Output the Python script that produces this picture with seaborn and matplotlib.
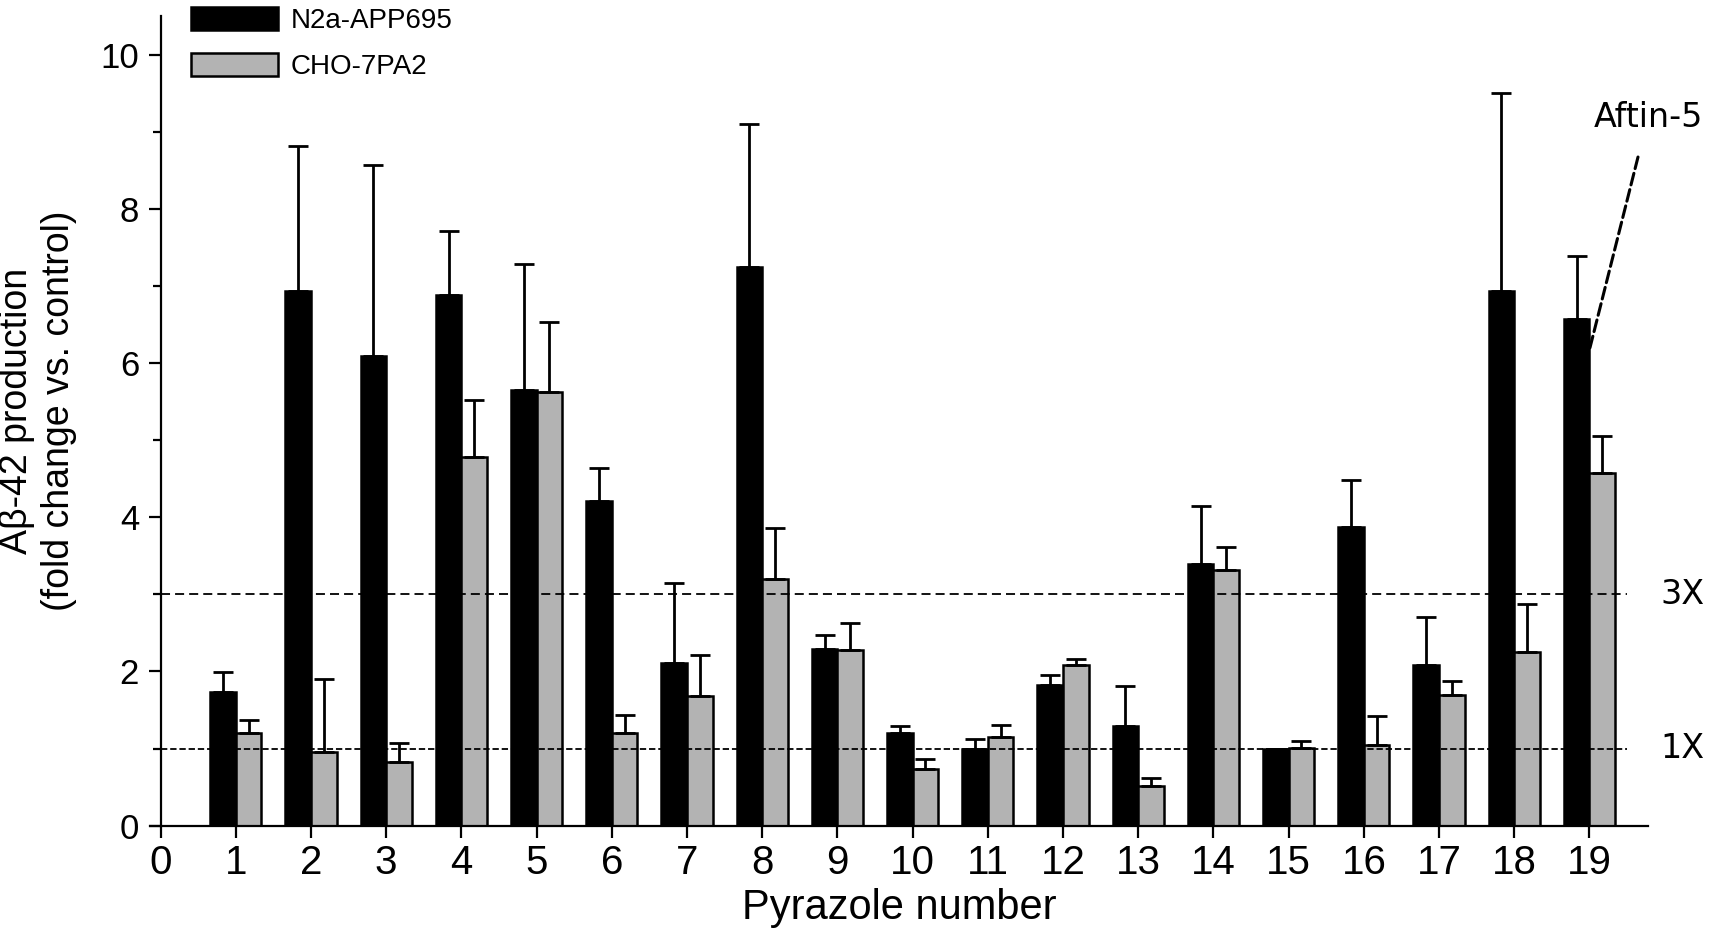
import pandas as pd
import matplotlib
matplotlib.use("Agg")
import matplotlib.pyplot as plt
import seaborn as sns

# values (mean and upper SEM)
pyrazole = list(range(1, 20))
n2a_mean = [1.73, 6.93, 6.09, 6.88, 5.65, 4.21, 2.11, 7.25, 2.29, 1.20,
            1.00, 1.82, 1.29, 3.39, 1.00, 3.88, 2.09, 6.93, 6.57]
n2a_sem = [0.26, 1.89, 2.48, 0.83, 1.64, 0.43, 1.04, 1.85, 0.18, 0.09,
           0.12, 0.13, 0.52, 0.76, 0.00, 0.60, 0.61, 2.57, 0.82]
cho_mean = [1.20, 0.95, 0.83, 4.78, 5.63, 1.20, 1.68, 3.20, 2.28, 0.73,
            1.15, 2.09, 0.52, 3.32, 1.01, 1.04, 1.70, 2.25, 4.58]
cho_sem = [0.17, 0.95, 0.24, 0.74, 0.90, 0.23, 0.54, 0.66, 0.35, 0.14,
           0.16, 0.07, 0.10, 0.29, 0.09, 0.38, 0.18, 0.63, 0.48]
series = ["N2a-APP695", "CHO-7PA2"]
colors = {"N2a-APP695": "black", "CHO-7PA2": "#b3b3b3"}

sns.set_style("ticks")
plt.rcParams["font.family"] = ["Liberation Sans", "DejaVu Sans"]
for key in ["text.color", "axes.labelcolor", "axes.edgecolor", "xtick.color", "ytick.color"]:
    plt.rcParams[key] = "black"

df = pd.DataFrame({
    "Pyrazole": pyrazole * 2,
    "value": n2a_mean + cho_mean,
    "line": [series[0]] * 19 + [series[1]] * 19,
})

fig = plt.figure(figsize=(17.13, 9.43), dpi=100)
ax = fig.add_axes([0.0876, 0.1244, 0.8745, 0.8586])

sns.barplot(data=df, x="Pyrazole", y="value", hue="line", hue_order=series,
            palette=colors, native_scale=True, width=0.68, errorbar=None,
            saturation=1, edgecolor="black", linewidth=1.8, legend=False, ax=ax)

# upper-only error bars on the bar centres
for cont, sem in zip(ax.containers, [n2a_sem, cho_sem]):
    xs = [p.get_x() + p.get_width() / 2 for p in cont.patches]
    ys = [p.get_height() for p in cont.patches]
    ax.errorbar(xs, ys, yerr=[[0] * len(sem), sem], fmt="none", ecolor="black",
                elinewidth=2.0, capsize=7.2, capthick=2.0, zorder=1)

ax.hlines(3, 0, 19.5, colors="black", linestyles=(0, (5, 2.8)), lw=1.3, zorder=3)
ax.hlines(1, 0, 19.5, colors="black", linestyles=(0, (3.5, 1.6)), lw=1.3, zorder=3)

ax.set_xlim(-0.14, 19.78)
ax.set_ylim(0, 10.5)
ax.set_xticks(range(0, 20))
ax.set_yticks(range(0, 11, 2))
ax.set_yticks(range(1, 11, 2), minor=True)
ax.spines["left"].set_position(("data", 0))
ax.spines["top"].set_visible(False)
ax.spines["right"].set_visible(False)
for s in ["left", "bottom"]:
    ax.spines[s].set_linewidth(1.6)
ax.tick_params(axis="both", which="major", length=8.5, width=1.6)
ax.tick_params(axis="y", which="minor", length=6, width=1.6)
ax.tick_params(axis="x", labelsize=29, pad=5)
ax.tick_params(axis="y", labelsize=25, pad=7)

ax.set_xlabel("Pyrazole number", fontsize=30, labelpad=4)
ax.set_ylabel("A\u03b2-42 production\n(fold change vs. control)", fontsize=27)
ax.yaxis.set_label_coords(-0.049, 0.512)

ax.legend(ax.containers, series, loc="upper left", bbox_to_anchor=(0.1115, 0.9926),
          bbox_transform=fig.transFigure, frameon=False, fontsize=20,
          borderpad=0, borderaxespad=0, handlelength=3.13, handleheight=0.9,
          labelspacing=0.68, handletextpad=0.45)

ann_font = dict(family="DejaVu Sans", fontsize=24)
ax.text(20.24, 3, "3X", ha="center", va="center", clip_on=False, **ann_font)
ax.text(20.24, 1, "1X", ha="center", va="center", clip_on=False, **ann_font)
ax.annotate("Aftin-5", xy=(19.0, 6.17), xytext=(19.78, 9.19), ha="center", va="center",
            annotation_clip=False,
            arrowprops=dict(arrowstyle="-", linestyle=(0, (3.9, 1.6)), lw=2.2,
                            shrinkA=15, shrinkB=0, color="black"),
            **ann_font)

fig.savefig("out.png", dpi=100)
